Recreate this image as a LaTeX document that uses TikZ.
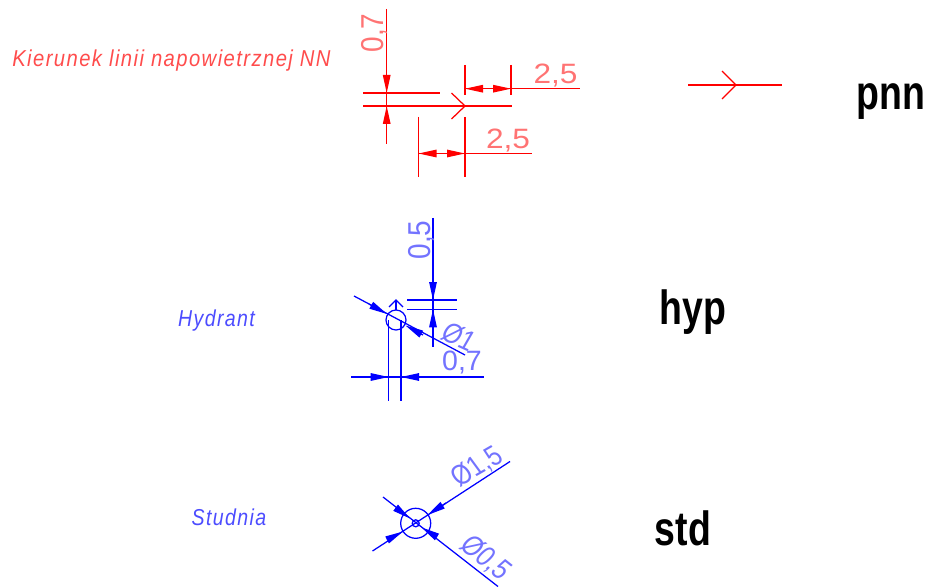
\documentclass[tikz,border=0pt]{standalone}
\usepackage{fontspec}
\setmainfont{Liberation Sans}
\usetikzlibrary{arrows.meta}
\definecolor{cadred}{RGB}{255,0,0}
\definecolor{cadblue}{RGB}{0,0,255}
\tikzset{
  x=1pt,y=-1pt,
  redline/.style={draw=cadred,line width=1.25pt},
  blueline/.style={draw=cadblue,line width=1.25pt},
  tip/.style={-{Triangle[length=18pt,width=7.5pt]}},
  dimtext/.style={font=\fontsize{28}{28}\selectfont,inner sep=0pt,text=#1!55!white,xscale=1.13},
  caption/.style={font=\fontsize{23}{23}\selectfont\itshape\addfontfeature{LetterSpace=7},inner sep=0pt,text=#1!70!white},
  code/.style={font=\fontsize{48}{48}\selectfont\bfseries,inner sep=0pt,text=black,xscale=.78},
}
\begin{document}
\begin{tikzpicture}
\useasboundingbox (0,0) rectangle (929,588);
% ---------- pnn
\node[caption=cadred,xscale=.88] (kier) at (171.5,61) {Kierunek linii napowietrznej NN};
\draw[redline] (386.7,9) -- (386.7,144);
\draw[redline] (363,93) -- (440,93);
\draw[redline] (363,106) -- (511.5,106);
\draw[redline] (451.5,93) -- (465,106) -- (451.5,119);
\draw[redline] (465,65) -- (465,95);
\draw[redline] (511,65) -- (511,95);
\draw[redline] (465,88.7) -- (580,88.7);
\draw[redline] (418.5,117) -- (418.5,177);
\draw[redline] (465,117) -- (465,177);
\draw[redline] (418.5,153.5) -- (532,153.5);
\draw[redline,tip] (386.7,73) -- (386.7,93);
\draw[redline,tip] (386.7,126) -- (386.7,106);
\draw[redline,tip] (488,88.7) -- (465,88.7);
\draw[redline,tip] (488,88.7) -- (511,88.7);
\draw[redline,tip] (441.5,153.5) -- (418.5,153.5);
\draw[redline,tip] (441.5,153.5) -- (465,153.5);
\node[dimtext=cadred] (d1) at (555.5,76) {2,5};
\node[dimtext=cadred] (d2) at (508,141) {2,5};
\node[dimtext=cadred,rotate=90] (d3) at (374,33) {0,7};
% sample line
\draw[redline] (688,85) -- (782,85);
\draw[redline] (722,71) -- (736,85) -- (722,99);
\node[code] (pnn) at (891,102) {pnn};
% ---------- hyp
\node[caption=cadblue,xscale=.85] (hyd) at (216.5,321) {Hydrant};
\draw[blueline] (433,218) -- (433,347);
\draw[blueline] (407,300) -- (457,300);
\draw[blueline] (407,309.3) -- (457,309.3);
\draw[blueline,tip] (433,281) -- (433,300);
\draw[blueline,tip] (433,328) -- (433,309.3);
\draw[blueline] (396,320) circle (10);
\draw[blueline] (396,300) -- (396,310);
\draw[blueline] (389,307) -- (396,300) -- (403,307);
\draw[blueline] (354,296) -- (465,355);
\draw[blueline,tip] (369,304) -- (387,314);
\draw[blueline,tip] (423,335) -- (405.5,325.5);
\draw[blueline] (388.7,320) -- (388.7,401);
\draw[blueline] (401,320) -- (401,401);
\draw[blueline] (351,377) -- (484,377);
\draw[blueline,tip] (369,377) -- (388.7,377);
\draw[blueline,tip] (421,377) -- (401,377);
\node[dimtext=cadblue,rotate=90] (d4) at (421,240) {0,5};
\node[dimtext=cadblue,rotate=-27,xscale=.8] (d5) at (459,337) {Ø1};
\node[dimtext=cadblue,xscale=.9] (d6) at (462,363) {0,7};
\node[code] (hyp) at (693,312) {hyp};
% ---------- std
\node[caption=cadblue,xscale=.85] (stu) at (229,517) {Studnia};
\draw[blueline] (415.7,523.3) circle (15);
\draw[blueline] (415.7,523.3) circle (3.5);
\draw[blueline] (383,497) -- (498,586.5);
\draw[blueline] (372.5,551) -- (510,461.5);
\draw[blueline,tip] (396,508) -- (410,518.5);
\draw[blueline,tip] (437,537) -- (421.7,527.5);
\draw[blueline,tip] (446,503) -- (427.5,515);
\draw[blueline,tip] (387,540) -- (403,531.5);
\node[dimtext=cadblue,rotate=33,xscale=.8] (d7) at (477,467) {Ø1,5};
\node[dimtext=cadblue,rotate=-42,xscale=.82] (d8) at (486,558) {Ø0,5};
\node[code] (std) at (683,528) {std};
\end{tikzpicture}
\end{document}
